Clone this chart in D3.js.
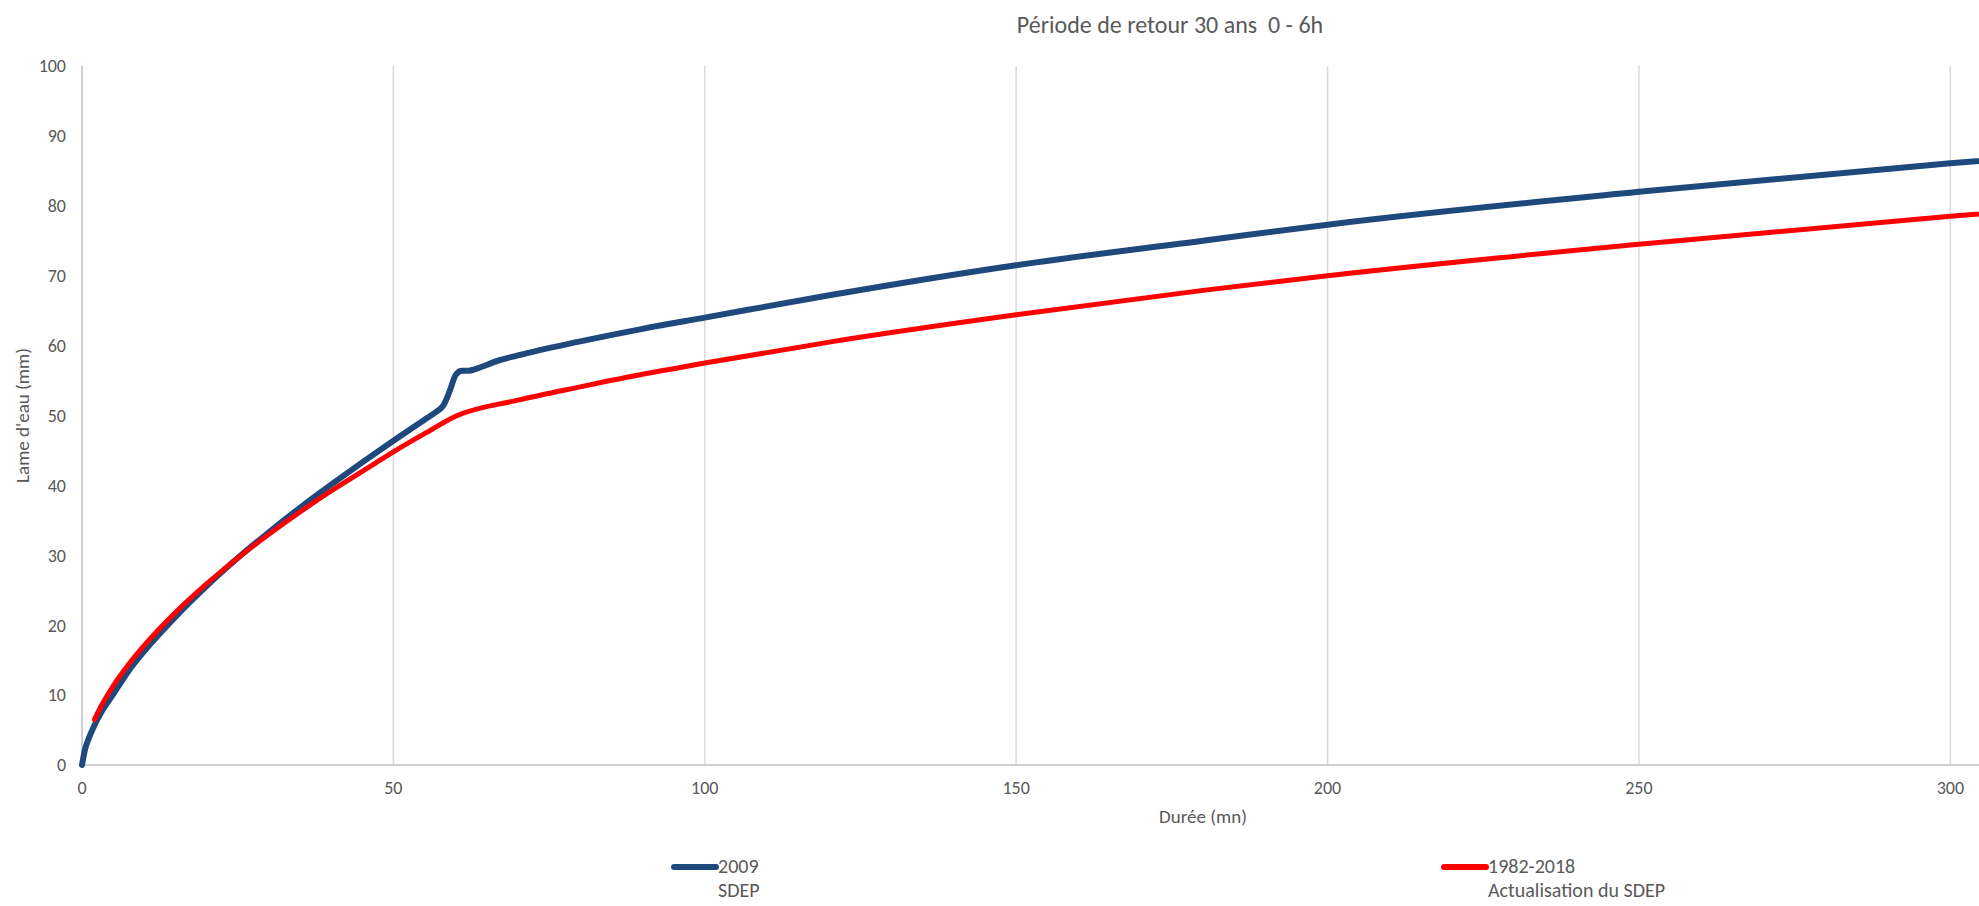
<!DOCTYPE html>
<html>
<head>
<meta charset="utf-8">
<script src="https://cdn.jsdelivr.net/npm/d3@7"></script>
<style>
  html, body { margin: 0; padding: 0; background: #fff; overflow: hidden; }
  svg { display: block; font-family: Carlito, Calibri, Lato, "Open Sans", sans-serif; }
</style>
</head>
<body>
<svg id="chart" width="1979" height="906"></svg>
<script>
// ---- data ----
const titleText = "Période de retour 30 ans  0 - 6h";
const xTitle = "Durée (mn)";
const yTitle = "Lame d'eau (mm)";
const xTicks = [0, 50, 100, 150, 200, 250, 300];
const yTicks = [0, 10, 20, 30, 40, 50, 60, 70, 80, 90, 100];

const durations2009 = [0, 0.5, 1, 2, 3, 5, 7.5, 10, 15, 20, 25, 30, 35, 40, 45, 50, 55, 57, 58, 59, 60, 61, 62, 64, 66, 70, 80, 90, 100, 120, 150, 180, 200, 250, 300, 360];
const values2009    = [0, 2.3, 3.6, 5.7, 7.4, 10.1, 13.5, 16.3, 21.2, 25.6, 29.6, 33.3, 36.8, 40.1, 43.3, 46.4, 49.4, 50.6, 51.4, 53.4, 55.8, 56.4, 56.4, 56.9, 57.6, 58.6, 60.6, 62.4, 64.0, 67.2, 71.5, 75.0, 77.3, 82.0, 86.1, 90.2];

const durations2018 = [2, 3, 5, 7.5, 10, 15, 20, 25, 30, 35, 40, 45, 50, 55, 60, 70, 80, 90, 95, 100, 120, 150, 180, 200, 250, 300, 360];
const values2018    = [6.5, 8.3, 11.3, 14.4, 17.1, 21.8, 25.9, 29.6, 33.0, 36.2, 39.2, 42.0, 44.8, 47.4, 49.9, 52.2, 54.1, 55.9, 56.7, 57.5, 60.5, 64.4, 67.9, 70.0, 74.5, 78.5, 82.6];

const seriesNames = ["2009", "1982-2018"];
const seriesSub = ["SDEP", "Actualisation du SDEP"];
const seriesColors = ["#1f497d", "#ff0000"];

// ---- layout ----
const svg = d3.select("#chart");
const plot = { left: 82, right: 2324, top: 66, bottom: 765 };

const x = d3.scaleLinear().domain([0, 360]).range([plot.left, plot.right]);
const y = d3.scaleLinear().domain([0, 100]).range([plot.bottom, plot.top]);

const textColor = "#595959";

// vertical gridlines
svg.append("g").selectAll("line").data(xTicks.filter(d => d > 0)).join("line")
  .attr("x1", d => x(d)).attr("x2", d => x(d))
  .attr("y1", y(0)).attr("y2", y(100))
  .attr("stroke", "#d9d9d9").attr("stroke-width", 1.5);

// axes lines
svg.append("line").attr("x1", x(0)).attr("x2", x(0)).attr("y1", y(0)).attr("y2", y(100))
  .attr("stroke", "#bfbfbf").attr("stroke-width", 1.5);
svg.append("line").attr("x1", x(0)).attr("x2", x(360)).attr("y1", y(0)).attr("y2", y(0))
  .attr("stroke", "#bfbfbf").attr("stroke-width", 1.5);

// tick labels
svg.append("g").selectAll("text").data(yTicks).join("text")
  .attr("x", 66).attr("y", d => y(d)).attr("dy", "0.35em")
  .attr("text-anchor", "end").attr("fill", textColor).attr("font-size", 18)
  .text(d => d);
svg.append("g").selectAll("text").data(xTicks).join("text")
  .attr("x", d => x(d)).attr("y", 794)
  .attr("text-anchor", "middle").attr("fill", textColor).attr("font-size", 18)
  .text(d => d);

// titles
svg.append("text").attr("x", 1170).attr("y", 33).attr("text-anchor", "middle")
  .style("white-space", "pre")
  .attr("fill", textColor).attr("font-size", 24).text(titleText);
svg.append("text").attr("x", (plot.left + plot.right) / 2).attr("y", 823).attr("text-anchor", "middle")
  .attr("fill", textColor).attr("font-size", 19).text(xTitle);
svg.append("text").attr("transform", `translate(29, ${(plot.top + plot.bottom) / 2}) rotate(-90)`)
  .attr("text-anchor", "middle").attr("fill", textColor).attr("font-size", 19).text(yTitle);

// lines
const line = d3.line().x(d => x(d[0])).y(d => y(d[1])).curve(d3.curveMonotoneX);
const data2009 = durations2009.map((d, i) => [d, values2009[i]]);
const data2018 = durations2018.map((d, i) => [d, values2018[i]]);

svg.append("path").datum(data2009).attr("d", line)
  .attr("fill", "none").attr("stroke", seriesColors[0]).attr("stroke-width", 6)
  .attr("stroke-linejoin", "round").attr("stroke-linecap", "round");
svg.append("path").datum(data2018).attr("d", line)
  .attr("fill", "none").attr("stroke", seriesColors[1]).attr("stroke-width", 5)
  .attr("stroke-linejoin", "round").attr("stroke-linecap", "round");

// legend
const legendX = [674, 1444];
seriesNames.forEach((name, i) => {
  const g = svg.append("g");
  g.append("line").attr("x1", legendX[i]).attr("x2", legendX[i] + 42)
    .attr("y1", 867).attr("y2", 867)
    .attr("stroke", seriesColors[i]).attr("stroke-width", 6).attr("stroke-linecap", "round");
  g.append("text").attr("x", legendX[i] + 44).attr("y", 873)
    .attr("fill", textColor).attr("font-size", 20).text(name);
  g.append("text").attr("x", legendX[i] + 44).attr("y", 897)
    .attr("fill", textColor).attr("font-size", 20).text(seriesSub[i]);
});
</script>
</body>
</html>
